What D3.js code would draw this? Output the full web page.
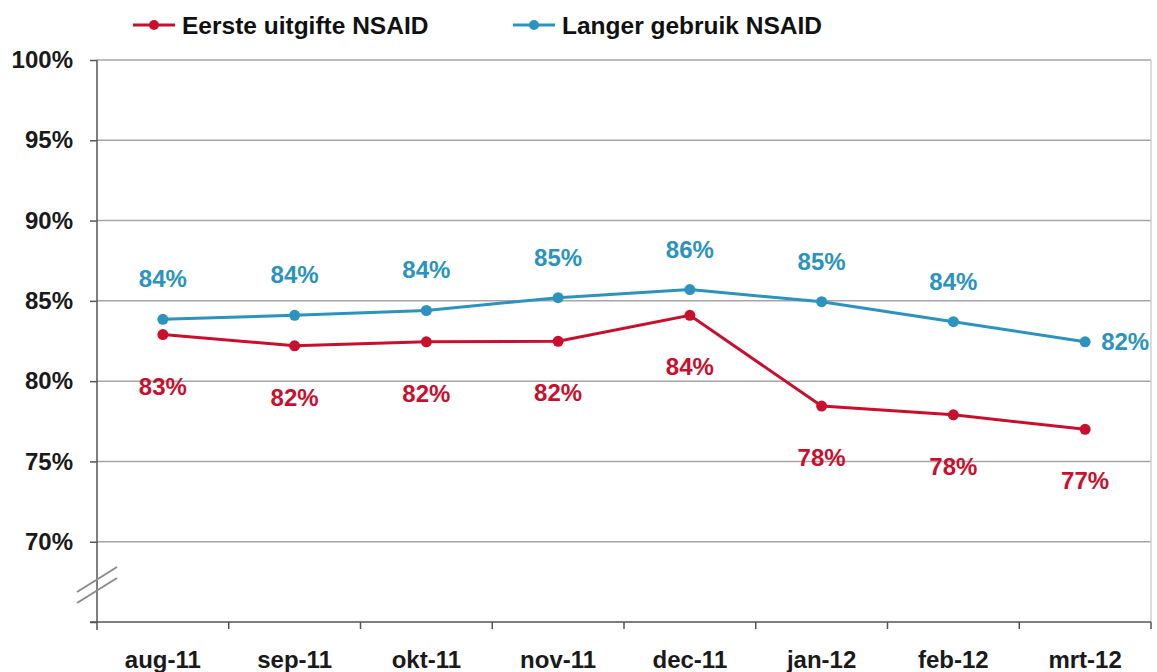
<!DOCTYPE html>
<html>
<head>
<meta charset="utf-8">
<script src="https://cdn.jsdelivr.net/npm/d3@7"></script>
<style>
  body { margin: 0; background: #fff; }
  svg { font-family: Arial, "Liberation Sans", sans-serif; }
</style>
</head>
<body>
<svg></svg>
<script>
const w = 1157;
const h = 672;

// data
const months = ['aug-11', 'sep-11', 'okt-11', 'nov-11', 'dec-11', 'jan-12', 'feb-12', 'mrt-12'];
const eersteUitgifte = [82.9, 82.2, 82.45, 82.48, 84.1, 78.45, 77.9, 77.0];
const langerGebruik = [83.85, 84.1, 84.4, 85.2, 85.7, 84.95, 83.7, 82.45];
const yTicks = [70, 75, 80, 85, 90, 95, 100];
const seriesNames = ['Eerste uitgifte NSAID', 'Langer gebruik NSAID'];

const red = '#c8102e';
const blue = '#2b93bd';

const m = { left: 97, right: 1151, top: 60, bottom: 622 };

const svg = d3.select('svg')
    .attr('width', w)
    .attr('height', h)

// scales
const x = d3.scaleBand()
    .domain(months)
    .range([m.left, m.right])

const y = d3.scaleLinear()
    .domain([65, 100])
    .range([m.bottom, m.top])

// gridlines
svg.append('g')
    .selectAll('line')
    .data(yTicks)
    .enter()
    .append('line')
    .attr('x1', m.left)
    .attr('x2', m.right)
    .attr('y1', d => y(d))
    .attr('y2', d => y(d))
    .attr('stroke', '#a6a6a6')
    .attr('stroke-width', 1.5)

// right border
svg.append('line')
    .attr('x1', m.right).attr('x2', m.right)
    .attr('y1', m.top).attr('y2', m.bottom)
    .attr('stroke', '#d0d0d0')
    .attr('stroke-width', 1.5)

// y-axis
const yAxis = d3.axisLeft(y)
    .tickValues([65].concat(yTicks))
    .tickSize(7)
    .tickPadding(17)
    .tickFormat(d => d === 65 ? '' : d + '%')

svg.append('g')
    .attr('id', 'y-axis')
    .attr('transform', 'translate(' + m.left + ',0)')
    .call(yAxis)
    .call(g => g.select('.domain').attr('stroke', '#555').attr('stroke-width', 1.5).attr('d', 'M0,' + m.top + 'V' + (m.bottom + 8)))
    .call(g => g.selectAll('.tick line').attr('stroke', '#555').attr('stroke-width', 1.5))
    .call(g => g.selectAll('.tick text')
        .attr('font-size', 24)
        .attr('font-weight', 'bold')
        .attr('fill', '#1a1a1a')
        .attr('font-family', 'Arial, "Liberation Sans", sans-serif'))

// x-axis with ticks at category boundaries
svg.append('g')
    .attr('id', 'x-axis')
    .attr('transform', 'translate(0,' + m.bottom + ')')
    .call(g => {
        g.append('line')
            .attr('x1', m.left - 7).attr('x2', m.right)
            .attr('stroke', '#555').attr('stroke-width', 1.5)
        g.selectAll('.bound')
            .data(months)
            .enter()
            .append('line')
            .attr('x1', d => x(d) + x.bandwidth())
            .attr('x2', d => x(d) + x.bandwidth())
            .attr('y1', 0).attr('y2', 7)
            .attr('stroke', '#555').attr('stroke-width', 1.5)
        g.selectAll('text')
            .data(months)
            .enter()
            .append('text')
            .attr('x', d => x(d) + x.bandwidth() / 2)
            .attr('y', 46)
            .attr('text-anchor', 'middle')
            .attr('font-size', 24)
            .attr('font-weight', 'bold')
            .attr('fill', '#1a1a1a')
            .text(d => d)
    })

// axis break marks
svg.append('g')
    .selectAll('line')
    .data([0, 11])
    .enter()
    .append('line')
    .attr('x1', 77).attr('x2', 117)
    .attr('y1', d => 592 + d).attr('y2', d => 567 + d)
    .attr('stroke', '#8c8c8c')
    .attr('stroke-width', 2)

const cx = d => x(d) + x.bandwidth() / 2
const line = d3.line()
    .x((d, i) => cx(months[i]))
    .y(d => y(d))

function drawSeries(values, color, labelDy) {
    const g = svg.append('g')
    g.append('path')
        .datum(values)
        .attr('d', line)
        .attr('fill', 'none')
        .attr('stroke', color)
        .attr('stroke-width', 3)
    g.selectAll('circle')
        .data(values)
        .enter()
        .append('circle')
        .attr('cx', (d, i) => cx(months[i]))
        .attr('cy', d => y(d))
        .attr('r', 5.5)
        .attr('fill', color)
    g.selectAll('text')
        .data(values)
        .enter()
        .append('text')
        .attr('x', (d, i) => labelDy(i) ? cx(months[i]) : cx(months[i]) + 16)
        .attr('y', (d, i) => y(d) + (labelDy(i) || 0) + 8)
        .attr('text-anchor', (d, i) => labelDy(i) ? 'middle' : 'start')
        .attr('font-size', 24)
        .attr('font-weight', 'bold')
        .attr('fill', color)
        .text(d => Math.round(d) + '%')
}

drawSeries(eersteUitgifte, red, () => 52)
drawSeries(langerGebruik, blue, i => i === months.length - 1 ? 0 : -40)

// legend
const legend = svg.append('g')
    .selectAll('g')
    .data(seriesNames)
    .enter()
    .append('g')
    .attr('transform', (d, i) => 'translate(' + (i === 0 ? 133 : 513) + ',25)')

legend.append('line')
    .attr('x1', 0).attr('x2', 42)
    .attr('stroke', (d, i) => i === 0 ? red : blue)
    .attr('stroke-width', 3)
legend.append('circle')
    .attr('cx', 21)
    .attr('r', 5)
    .attr('fill', (d, i) => i === 0 ? red : blue)
legend.append('text')
    .attr('x', 49)
    .attr('y', 9)
    .attr('font-size', 24.5)
    .attr('font-weight', 'bold')
    .attr('fill', '#111')
    .text(d => d)
</script>
</body>
</html>
